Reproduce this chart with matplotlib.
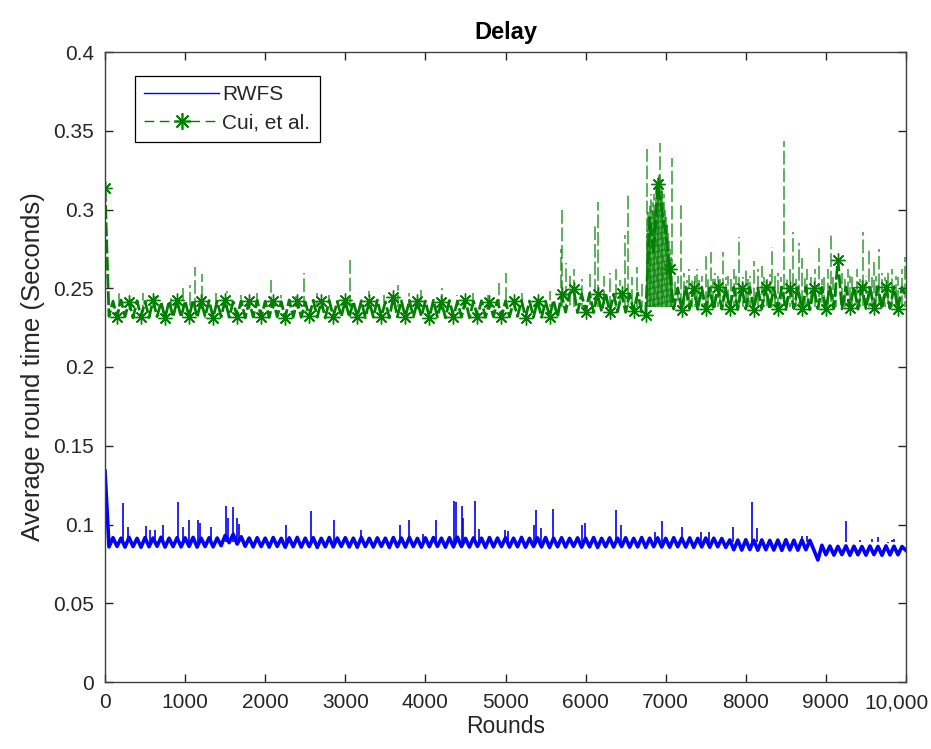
import numpy as np
import matplotlib
matplotlib.use('Agg')
import matplotlib.pyplot as plt
from matplotlib.lines import Line2D
from matplotlib.transforms import ScaledTranslation

# Rounds sampled every 50 (0 .. 10000)
rounds = np.arange(0, 10001, 50)

# RWFS - band values (alternating top/bottom of the noisy band)
rwfs = [
    0.1340, 0.0858, 0.0916, 0.0861, 0.0913, 0.0857, 0.0918, 0.0860, 0.0912, 0.0856, 0.0917, 0.0859, 0.0914, 0.0862, 0.0919, 0.0857, 0.0913, 0.0860, 0.0916, 0.0858,
    0.0915, 0.0861, 0.0918, 0.0857, 0.0913, 0.0860, 0.0916, 0.0858, 0.0914, 0.0866, 0.0930, 0.0885, 0.0938, 0.0876, 0.0922, 0.0862, 0.0914, 0.0858, 0.0916, 0.0860,
    0.0913, 0.0857, 0.0917, 0.0861, 0.0912, 0.0856, 0.0915, 0.0859, 0.0918, 0.0857, 0.0913, 0.0860, 0.0916, 0.0855, 0.0912, 0.0859, 0.0917, 0.0858, 0.0914, 0.0861,
    0.0916, 0.0858, 0.0913, 0.0856, 0.0918, 0.0860, 0.0912, 0.0857, 0.0915, 0.0861, 0.0913, 0.0855, 0.0917, 0.0859, 0.0914, 0.0857, 0.0918, 0.0860, 0.0912, 0.0856,
    0.0915, 0.0859, 0.0917, 0.0861, 0.0913, 0.0856, 0.0916, 0.0858, 0.0919, 0.0860, 0.0912, 0.0857, 0.0915, 0.0861, 0.0913, 0.0855, 0.0917, 0.0858, 0.0914, 0.0860,
    0.0916, 0.0857, 0.0913, 0.0859, 0.0918, 0.0856, 0.0912, 0.0860, 0.0915, 0.0858, 0.0917, 0.0855, 0.0913, 0.0859, 0.0916, 0.0857, 0.0912, 0.0861, 0.0915, 0.0856,
    0.0913, 0.0858, 0.0917, 0.0855, 0.0912, 0.0859, 0.0915, 0.0857, 0.0913, 0.0860, 0.0916, 0.0856, 0.0912, 0.0858, 0.0917, 0.0855, 0.0913, 0.0859, 0.0915, 0.0857,
    0.0912, 0.0856, 0.0916, 0.0859, 0.0913, 0.0857, 0.0915, 0.0855, 0.0912, 0.0858, 0.0914, 0.0856, 0.0913, 0.0859, 0.0911, 0.0855, 0.0902, 0.0840, 0.0901, 0.0838,
    0.0903, 0.0841, 0.0900, 0.0837, 0.0902, 0.0840, 0.0899, 0.0838, 0.0901, 0.0836, 0.0903, 0.0839, 0.0900, 0.0837, 0.0902, 0.0840, 0.0899, 0.0838, 0.0775, 0.0868,
    0.0808, 0.0863, 0.0806, 0.0861, 0.0809, 0.0864, 0.0805, 0.0862, 0.0808, 0.0860, 0.0806, 0.0863, 0.0809, 0.0861, 0.0805, 0.0864, 0.0807, 0.0862, 0.0808, 0.0860,
    0.0835,
]

# Cui, et al. - band values
cui = [
    0.3137, 0.2322, 0.2418, 0.2316, 0.2425, 0.2319, 0.2414, 0.2312, 0.2421, 0.2318, 0.2416, 0.2314, 0.2423, 0.2320, 0.2412, 0.2310, 0.2419, 0.2317, 0.2424, 0.2315,
    0.2420, 0.2318, 0.2426, 0.2315, 0.2417, 0.2321, 0.2422, 0.2313, 0.2418, 0.2319, 0.2425, 0.2316, 0.2414, 0.2320, 0.2421, 0.2312, 0.2419, 0.2318, 0.2423, 0.2315,
    0.2418, 0.2314, 0.2422, 0.2319, 0.2415, 0.2312, 0.2426, 0.2317, 0.2420, 0.2315, 0.2413, 0.2321, 0.2424, 0.2316, 0.2419, 0.2311, 0.2422, 0.2318, 0.2416, 0.2320,
    0.2423, 0.2315, 0.2417, 0.2320, 0.2421, 0.2313, 0.2418, 0.2316, 0.2425, 0.2319, 0.2414, 0.2312, 0.2445, 0.2318, 0.2420, 0.2315, 0.2423, 0.2317, 0.2416, 0.2321,
    0.2419, 0.2314, 0.2424, 0.2318, 0.2415, 0.2312, 0.2422, 0.2320, 0.2417, 0.2316, 0.2425, 0.2313, 0.2419, 0.2318, 0.2421, 0.2315, 0.2414, 0.2319, 0.2423, 0.2316,
    0.2420, 0.2318, 0.2416, 0.2321, 0.2423, 0.2314, 0.2419, 0.2317, 0.2422, 0.2315, 0.2418, 0.2320, 0.2425, 0.2316, 0.2462, 0.2348, 0.2466, 0.2495, 0.2345, 0.2465,
    0.2350, 0.2468, 0.2346, 0.2464, 0.2352, 0.2470, 0.2348, 0.2463, 0.2351, 0.2467, 0.2347, 0.2465, 0.2353, 0.2469, 0.2349, 0.2330, 0.2950, 0.2720, 0.3160, 0.3000,
    0.2850, 0.2620, 0.2368, 0.2502, 0.2365, 0.2508, 0.2370, 0.2500, 0.2366, 0.2506, 0.2369, 0.2503, 0.2364, 0.2509, 0.2367, 0.2501, 0.2371, 0.2507, 0.2365, 0.2504,
    0.2368, 0.2506, 0.2364, 0.2502, 0.2370, 0.2509, 0.2366, 0.2503, 0.2369, 0.2507, 0.2365, 0.2501, 0.2371, 0.2505, 0.2367, 0.2508, 0.2364, 0.2502, 0.2370, 0.2506,
    0.2368, 0.2510, 0.2372, 0.2680, 0.2369, 0.2508, 0.2373, 0.2512, 0.2367, 0.2509, 0.2371, 0.2506, 0.2374, 0.2511, 0.2368, 0.2507, 0.2372, 0.2510, 0.2366, 0.2508,
    0.2440,
]

# isolated spikes (round, peak)
rwfs_spike_x = [220, 283, 508, 562, 625, 725, 917, 971, 1054, 1167, 1190, 1321, 1512, 1540, 1604, 1650, 1670,
                2262, 2575, 2854, 3196, 3687, 3792, 3971, 4137, 4354, 4387, 4458, 4475, 4625, 4675,
                4992, 5030, 5354, 5375, 5446, 5596, 5958, 5987, 6375, 6437, 6862, 6958, 7208, 7440, 7542,
                7842, 8083, 8146, 8700, 8770, 9250, 9330, 9430, 9570, 9650, 9670, 9770, 9830, 9850]
rwfs_spike_y = [0.1137, 0.0986, 0.0990, 0.0965, 0.0968, 0.0997, 0.1140, 0.0985, 0.1030, 0.1030, 0.1010, 0.0986, 0.1117, 0.1040, 0.1110, 0.1040, 0.1005,
                0.1000, 0.1086, 0.1030, 0.0966, 0.1000, 0.1030, 0.0940, 0.1030, 0.1149, 0.1145, 0.1120, 0.1040, 0.1150, 0.0970,
                0.0965, 0.0960, 0.1000, 0.1090, 0.0980, 0.1100, 0.1000, 0.1010, 0.1090, 0.1000, 0.0950, 0.1020, 0.0986, 0.0950, 0.0950,
                0.0986, 0.1145, 0.0980, 0.0930, 0.0930, 0.1022, 0.0890, 0.0900, 0.0910, 0.0920, 0.0890, 0.0880, 0.0900, 0.0910]

cui_spike_x = [180, 320, 470, 620, 820, 980, 1060, 1125, 1208, 1380, 1520, 1700, 1900, 2071, 2200, 2380, 2479, 2650, 2800,
               3054, 3300, 3480, 3660, 3800, 3950, 4210, 4400, 4600, 4780, 4913, 5012, 5200, 5400, 5560,
               5690, 5700, 5760, 5800, 5850, 5950, 6050, 6117, 6154, 6230, 6300, 6380, 6430, 6487, 6529, 6580, 6646, 6700,
               6762, 6770, 6780, 6790, 6800, 6810, 6820, 6830, 6840, 6850, 6860, 6870, 6880, 6890, 6900, 6910, 6920, 6929,
               6940, 6950, 6960, 6970, 6980, 6990, 7000, 7010, 7020, 7030, 7040, 7050, 7060, 7070, 7083,
               7120, 7150, 7187, 7230, 7260, 7290, 7330, 7360, 7390, 7420, 7450, 7500, 7530, 7560, 7590, 7620, 7650, 7680,
               7720, 7750, 7780, 7810, 7850, 7880, 7917, 7960,
               8000, 8030, 8050, 8100, 8150, 8200, 8230, 8260, 8300, 8333, 8370, 8400, 8440, 8479, 8510, 8550, 8592, 8630,
               8670, 8700, 8740, 8770, 8820, 8870, 8920, 8950, 8980,
               9020, 9062, 9090, 9120, 9200, 9240, 9270, 9300, 9330, 9390, 9420, 9458, 9500, 9540, 9570, 9600, 9630, 9660,
               9700, 9740, 9780, 9830, 9870, 9900, 9950, 9987]
cui_spike_y = [0.248, 0.246, 0.247, 0.245, 0.246, 0.250, 0.252, 0.2637, 0.259, 0.247, 0.248, 0.246, 0.247, 0.2552, 0.246, 0.245, 0.2595, 0.247, 0.246,
               0.2696, 0.248, 0.246, 0.252, 0.247, 0.249, 0.250, 0.246, 0.247, 0.246, 0.2535, 0.2597, 0.247, 0.246, 0.248,
               0.275, 0.301, 0.266, 0.258, 0.262, 0.256, 0.259, 0.290, 0.305, 0.258, 0.2597, 0.262, 0.255, 0.2838, 0.3113, 0.257, 0.2635, 0.253,
               0.3382, 0.285, 0.300, 0.295, 0.305, 0.290, 0.310, 0.300, 0.305, 0.295, 0.310, 0.300, 0.315, 0.305, 0.320, 0.315, 0.322, 0.3424,
               0.320, 0.312, 0.315, 0.305, 0.310, 0.300, 0.295, 0.290, 0.292, 0.285, 0.280, 0.275, 0.270, 0.262, 0.3325,
               0.256, 0.258, 0.305, 0.260, 0.255, 0.262, 0.255, 0.258, 0.262, 0.256, 0.258, 0.272, 0.257, 0.273, 0.256, 0.260, 0.258, 0.256,
               0.273, 0.257, 0.258, 0.256, 0.262, 0.258, 0.2827, 0.257,
               0.262, 0.256, 0.258, 0.267, 0.262, 0.264, 0.257, 0.256, 0.259, 0.276, 0.258, 0.260, 0.257, 0.3437, 0.258, 0.262, 0.2859, 0.258,
               0.279, 0.269, 0.258, 0.262, 0.257, 0.262, 0.276, 0.256, 0.258,
               0.262, 0.286, 0.257, 0.258, 0.260, 0.256, 0.262, 0.258, 0.257, 0.262, 0.256, 0.286, 0.258, 0.275, 0.257, 0.268, 0.258, 0.275,
               0.260, 0.257, 0.262, 0.262, 0.258, 0.257, 0.262, 0.270]

rwfs_base = 0.089
cui_base = 0.238

xtick_vals = [0, 1000, 2000, 3000, 4000, 5000, 6000, 7000, 8000, 9000, 10000]
xtick_labels = ['0', '1000', '2000', '3000', '4000', '5000', '6000', '7000', '8000', '9000', '10,000']
ytick_vals = [0, 0.05, 0.1, 0.15, 0.2, 0.25, 0.3, 0.35, 0.4]
ytick_labels = ['0', '0.05', '0.1', '0.15', '0.2', '0.25', '0.3', '0.35', '0.4']

plt.rcParams['font.family'] = ['Liberation Sans', 'DejaVu Sans']

BLUE = '#0000ff'
GREEN = '#008000'
TXT = '#262626'

fig = plt.figure(figsize=(9.31, 7.49), dpi=100)
ax = fig.add_axes([105 / 931, 1 - 682 / 749, 801 / 931, 630 / 749])

# RWFS
ax.plot(rounds, rwfs, color=BLUE, lw=2.6, solid_joinstyle='round')
ax.vlines(rwfs_spike_x, rwfs_base, rwfs_spike_y, color=BLUE, lw=1.2)

# Cui, et al. - stagger the dash phase so the dense spikes don't line up
dash_styles = [((i * 3.7) % 11.5, (9, 2.5)) for i in range(len(cui_spike_x))]
ax.vlines(cui_spike_x, cui_base, cui_spike_y, color=GREEN, lw=1.1,
          linestyles=dash_styles, alpha=0.8)
ax.plot(rounds, cui, color=GREEN, lw=2.0, ls=(0, (5, 1.2)))
ax.plot(rounds, cui, ls='none', color=GREEN, marker=(8, 2, 0), ms=10, mew=1.0, markevery=3)

ax.set_xlim(0, 10000)
ax.set_ylim(0, 0.4)
ax.set_xticks(xtick_vals)
ax.set_xticklabels(xtick_labels)
ax.set_yticks(ytick_vals)
ax.set_yticklabels(ytick_labels)
ax.tick_params(direction='in', length=6, width=1, colors=TXT, labelsize=15,
               top=True, right=True, pad=8)
# keep "10,000" inside the figure
last = ax.get_xticklabels()[-1]
last.set_transform(last.get_transform() + ScaledTranslation(-10 / 100, 0, fig.dpi_scale_trans))
for sp in ax.spines.values():
    sp.set_color('#404040')
    sp.set_linewidth(1.0)

ax.set_title('Delay', fontsize=17, fontweight='bold', pad=9)
ax.set_xlabel('Rounds', fontsize=16.5, color=TXT, labelpad=2)
ax.set_ylabel('Average round time (Seconds)', fontsize=18.5, color=TXT, labelpad=6)

handles = [
    Line2D([], [], color=BLUE, lw=1.0),
    Line2D([], [], color=GREEN, lw=1.0, ls=(0, (7, 4)), marker=(8, 2, 0), ms=12, mew=1.2),
]
leg = ax.legend(handles, ['RWFS', 'Cui, et al.'], loc='upper left',
                bbox_to_anchor=(30 / 801, 1 - 24 / 630), borderaxespad=0,
                fontsize=15, frameon=True, fancybox=False, framealpha=1,
                edgecolor='black', handlelength=3.6, handletextpad=0.15,
                labelspacing=0.45, borderpad=0.45, numpoints=1)
leg.get_frame().set_linewidth(0.9)
for t in leg.get_texts():
    t.set_color(TXT)

fig.savefig('out.png', dpi=100)
